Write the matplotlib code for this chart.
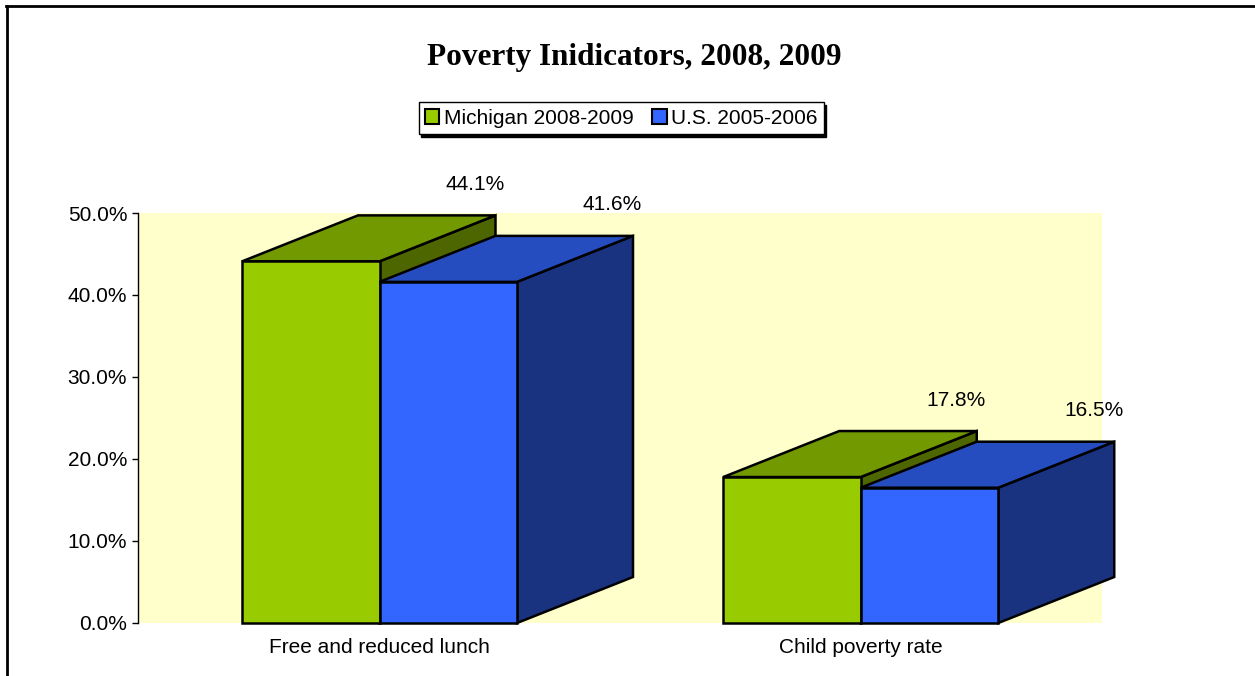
import matplotlib
matplotlib.use("Agg")
import matplotlib.pyplot as plt
from matplotlib.patches import Polygon, Patch
from matplotlib.lines import Line2D
import numpy as np

# data
categories = ["Free and reduced lunch", "Child poverty rate"]
series_names = ["Michigan 2008-2009", "U.S. 2005-2006"]
michigan = [44.1, 17.8]
us = [41.6, 16.5]

# colours: front, top, side
green = ("#99CC00", "#739900", "#4D6600")
blue = ("#3366FF", "#264DBF", "#1A3380")

W, H, DPI = 1255, 676, 100
plt.rcParams["font.family"] = ["Liberation Sans", "DejaVu Sans"]
fig = plt.figure(figsize=(W / DPI, H / DPI), dpi=DPI)
FS = 15

# plot area in pixels
left, right, top, bottom = 138, 1102, 213, 623
ax = fig.add_axes([left / W, 1 - bottom / H, (right - left) / W, (bottom - top) / H])
ax.set_facecolor("#FFFFCC")

ymax = 50
px_per_x = 137.5
px_per_y = (bottom - top) / ymax
depth_x = 116 / px_per_x
depth_y = 46 / px_per_y

centers = np.arange(len(categories)) * 3.5
ax.set_xlim(-(379.5 - left) / px_per_x, (right - 379.5) / px_per_x)
ax.set_ylim(0, ymax)

lw = 1.8


def box(x0, val, cols, z):
    x1 = x0 + 1
    topface = [(x0, val), (x0 + depth_x, val + depth_y),
               (x1 + depth_x, val + depth_y), (x1, val)]
    side = [(x1, 0), (x1, val), (x1 + depth_x, val + depth_y),
            (x1 + depth_x, depth_y)]
    for pts, c in ((side, cols[2]), (topface, cols[1])):
        ax.add_patch(Polygon(pts, closed=True, facecolor=c, edgecolor="black",
                             lw=lw, joinstyle="miter", clip_on=False, zorder=z))
    ax.bar(x0 + 0.5, val, width=1, color=cols[0], edgecolor="black", lw=lw,
           clip_on=False, zorder=z + 0.5)
    # value label, Excel-style, above the back edge of the top
    ax.annotate(f"{val:.1f}%", (x0 + 0.5 + depth_x, val + depth_y),
                xytext=(48 * 0.72, 31 * 0.72), textcoords="offset points",
                ha="center", va="center", fontsize=FS, zorder=10,
                annotation_clip=False)


for i, c in enumerate(centers):
    box(c - 1, michigan[i], green, 2)
    box(c, us[i], blue, 4)

ax.set_yticks(np.arange(0, 51, 10))
ax.set_yticklabels([f"{v:.1f}%" for v in np.arange(0, 51, 10)], fontsize=FS)
ax.set_xticks(centers)
ax.set_xticklabels(categories, fontsize=FS)
ax.tick_params(axis="x", length=0, pad=11)
ax.tick_params(axis="y", length=4.3, width=1, pad=3.5, direction="out")
for s in ("top", "right", "bottom"):
    ax.spines[s].set_visible(False)
ax.spines["left"].set_linewidth(1)

fig.text(634 / W, 1 - 57 / H, "Poverty Inidicators, 2008, 2009",
         family=["Liberation Serif", "DejaVu Serif"], fontweight="bold",
         fontsize=22.5, ha="center", va="center")

handles = [Patch(facecolor=green[0], edgecolor="black", lw=1.5),
           Patch(facecolor=blue[0], edgecolor="black", lw=1.5)]
leg = fig.legend(handles, series_names, loc="center", ncol=2,
                 bbox_to_anchor=(621 / W, 1 - 118 / H), fontsize=FS,
                 handlelength=0.7, handleheight=0.7, handletextpad=0.2,
                 columnspacing=0.9, borderpad=0.3, fancybox=False,
                 shadow={"color": "black", "alpha": 1}, framealpha=1)
leg.get_frame().set_edgecolor("black")
leg.get_frame().set_linewidth(1)

# outer chart frame (top and left edges visible)
fig.add_artist(Line2D([6 / W, 1], [1 - 5.5 / H, 1 - 5.5 / H], color="black",
                      lw=2, transform=fig.transFigure))
fig.add_artist(Line2D([6.5 / W, 6.5 / W], [0, 1 - 5.5 / H], color="black",
                      lw=2, transform=fig.transFigure))

fig.savefig("out.png", dpi=DPI)
